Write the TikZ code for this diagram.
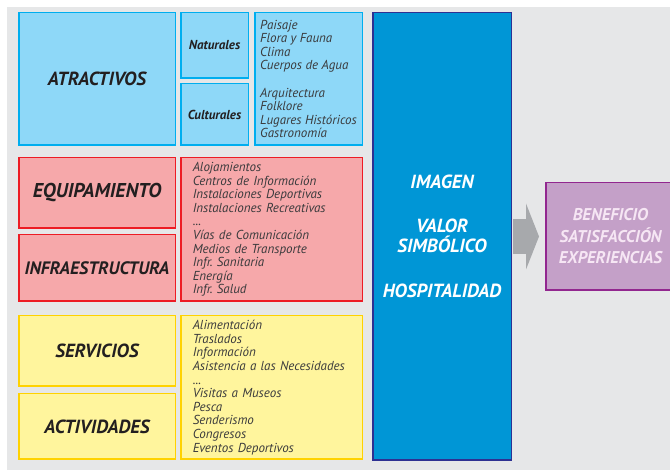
\documentclass[tikz,border=0pt]{standalone}
\usepackage{fontspec}
\setmainfont{PT Sans}
\usepackage{tikz}
\usetikzlibrary{positioning,arrows.meta}

\definecolor{bggray}{HTML}{E6E7E8}
\definecolor{atrfill}{HTML}{8ED8F8}
\definecolor{atrline}{HTML}{00AEEF}
\definecolor{eqfill}{HTML}{F6A8AA}
\definecolor{eqline}{HTML}{ED1C24}
\definecolor{serfill}{HTML}{FFF59D}
\definecolor{serline}{HTML}{FFD200}
\definecolor{bigfill}{HTML}{0096D6}
\definecolor{bigline}{HTML}{2E3192}
\definecolor{benfill}{HTML}{C4A0C8}
\definecolor{benline}{HTML}{92278F}
\definecolor{bentext}{HTML}{F6E6F4}
\definecolor{arrowgray}{HTML}{A7A9AC}
\definecolor{titletext}{HTML}{231F20}
\definecolor{listtext}{HTML}{3A3A3C}

\begin{document}
\begin{tikzpicture}[x=1pt, y=-1pt,
    box/.style={draw, line width=1.5pt, inner sep=0pt},
    title/.style={font=\fontsize{19}{21}\selectfont\bfseries\itshape, text=titletext},
    subtitle/.style={font=\fontsize{13}{15}\selectfont\bfseries\itshape, text=titletext},
    list/.style={font=\fontsize{13}{13.6}\selectfont\itshape, align=left, text=listtext},
    atrbox/.style={box, draw=atrline, fill=atrfill},
    eqbox/.style={box, draw=eqline, fill=eqfill},
    serbox/.style={box, draw=serline, fill=serfill},
    node distance=4pt
    ]
    \useasboundingbox (0,0) rectangle (670,470);
    \clip (0,0) rectangle (670,470);
    \fill[white]   (0,0) rectangle (670,470);
    \fill[bggray]  (7,7) rectangle (670,470);

    % Atractivos -------------------------------------------------------
    \node[atrbox, title, minimum width=156.5pt, minimum height=132.5pt,
          anchor=north west] (atr) at (18,12) {ATRACTIVOS};
    \node[atrbox, subtitle, minimum width=67.5pt, minimum height=65.5pt,
          right=4pt of atr.north east, anchor=north west] (nat) {Naturales};
    \node[atrbox, subtitle, minimum width=67.5pt, minimum height=61.5pt,
          below=4pt of nat] (cul) {Culturales};
    \node[atrbox, list, minimum width=107.5pt, minimum height=132.5pt,
          right=5pt of nat.north east, anchor=north west] (atrlist)
        {Paisaje\\Flora y Fauna\\Clima\\Cuerpos de Agua\\[13.6pt]
         Arquitectura\\Folklore\\Lugares Históricos\\Gastronomía};

    % Equipamiento e infraestructura -----------------------------------
    \node[eqbox, title, font=\fontsize{20}{21}\selectfont\bfseries\itshape,
          minimum width=156.5pt, minimum height=70.5pt,
          below=11pt of atr] (equ) {EQUIPAMIENTO};
    \node[eqbox, title, font=\fontsize{18}{21}\selectfont\bfseries\itshape,
          minimum width=156.5pt, minimum height=66.5pt,
          below=5pt of equ] (inf) {INFRAESTRUCTURA};
    \node[eqbox, list, text width=157.5pt, inner xsep=12pt, minimum height=143.5pt,
          right=4pt of equ.north east, anchor=north west] (eqlist)
        {Alojamientos\\Centros de Información\\Instalaciones Deportivas\\
         Instalaciones Recreativas\\...\\Vías de Comunicación\\
         Medios de Transporte\\Infr.\ Sanitaria\\Energía\\Infr.\ Salud};

    % Servicios y actividades ------------------------------------------
    \node[serbox, title, minimum width=156.5pt, minimum height=70.5pt,
          below=13pt of inf] (ser) {SERVICIOS};
    \node[serbox, title, minimum width=156.5pt, minimum height=65.5pt,
          below=6pt of ser] (act) {ACTIVIDADES};
    \node[serbox, list, text width=157.5pt, inner xsep=12pt, minimum height=143.5pt,
          right=4pt of ser.north east, anchor=north west] (serlist)
        {Alimentación\\Traslados\\Información\\Asistencia a las Necesidades\\...\\
         Visitas a Museos\\Pesca\\Senderismo\\Congresos\\Eventos Deportivos};

    % Imagen y beneficio -----------------------------------------------
    \node[box, draw=bigline, fill=bigfill, text=white, align=center,
          font=\fontsize{19}{20}\selectfont\bfseries\itshape,
          minimum width=138.5pt, minimum height=447.5pt,
          right=9pt of atrlist.north east, anchor=north west] (big)
        {IMAGEN\\[24pt]VALOR\\SIMBÓLICO\\[25pt]HOSPITALIDAD};
    \node[box, draw=benline, fill=benfill, text=bentext, align=center,
          font=\fontsize{17}{21.5}\selectfont\bfseries\itshape,
          minimum width=129.5pt, minimum height=107.5pt,
          right=33pt of big] (ben)
        {BENEFICIO\\SATISFACCIÓN\\EXPERIENCIAS};
    \draw[arrowgray, line width=35pt,
          -{Triangle[width=66pt, length=13pt, line width=0pt]},
          shorten <=1.25pt, shorten >=6pt] (big) -- (ben);
\end{tikzpicture}
\end{document}
